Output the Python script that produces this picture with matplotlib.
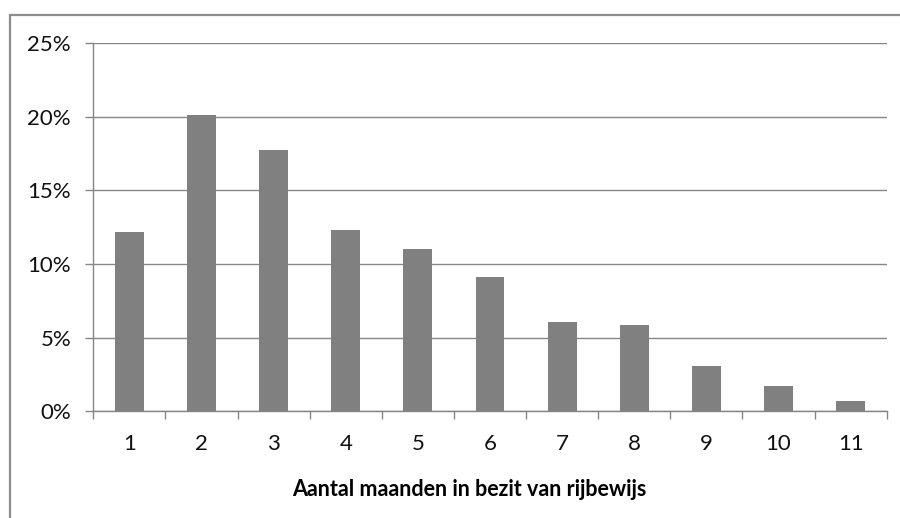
import matplotlib
matplotlib.use("Agg")
import matplotlib.pyplot as plt
from matplotlib.ticker import PercentFormatter, FixedLocator
from matplotlib.patches import Rectangle

# maanden in bezit van rijbewijs vs aandeel
maanden = [1, 2, 3, 4, 5, 6, 7, 8, 9, 10, 11]
aandeel = [12.2, 20.1, 17.75, 12.35, 11.05, 9.15, 6.05, 5.85, 3.1, 1.7, 0.7]
y_ticks = [0, 5, 10, 15, 20, 25]

plt.rcParams['font.family'] = ['Lato', 'DejaVu Sans']

W, H = 900, 518
fig = plt.figure(figsize=(W / 100, H / 100), dpi=100)

# chart frame (Excel style, loopt buiten beeld door)
fig.patches.append(Rectangle((10 / W, -0.1), 1.0, 1 - 15 / H + 0.1,
                             transform=fig.transFigure, fill=False,
                             edgecolor='#8c8c8c', linewidth=1.6))

ax = fig.add_axes([93.3 / W, 1 - 411.3 / H, (886.7 - 93.3) / W, (411.3 - 43.3) / H])

ax.bar(maanden, aandeel, width=0.4, color='#808080', zorder=3)

ax.set_xlim(0.5, 11.5)
ax.set_ylim(0, 25)
ax.set_yticks(y_ticks)
ax.yaxis.set_major_formatter(PercentFormatter(decimals=0))
ax.set_xticks(maanden)
ax.set_xticklabels([str(m) for m in maanden])
ax.xaxis.set_minor_locator(FixedLocator([m + 0.5 for m in [0] + maanden]))

ax.grid(axis='y', color='#868686', linewidth=1.0, zorder=0)

for side in ['top', 'right']:
    ax.spines[side].set_visible(False)
for side in ['left', 'bottom']:
    ax.spines[side].set_color('#868686')
    ax.spines[side].set_linewidth(1.0)

ax.tick_params(axis='y', which='major', length=6, width=1.0, color='#868686',
               direction='out', pad=10, labelsize=16, labelcolor='#111111')
ax.tick_params(axis='x', which='major', length=0, pad=16,
               labelsize=16, labelcolor='#111111')
ax.tick_params(axis='x', which='minor', length=6, width=1.0,
               color='#868686', direction='out')

fig.text(469 / W, 1 - 490 / H, 'Aantal maanden in bezit van rijbewijs',
         ha='center', va='center', fontsize=15.5, fontweight='bold',
         color='#000000')

fig.savefig('out.png', dpi=100)
